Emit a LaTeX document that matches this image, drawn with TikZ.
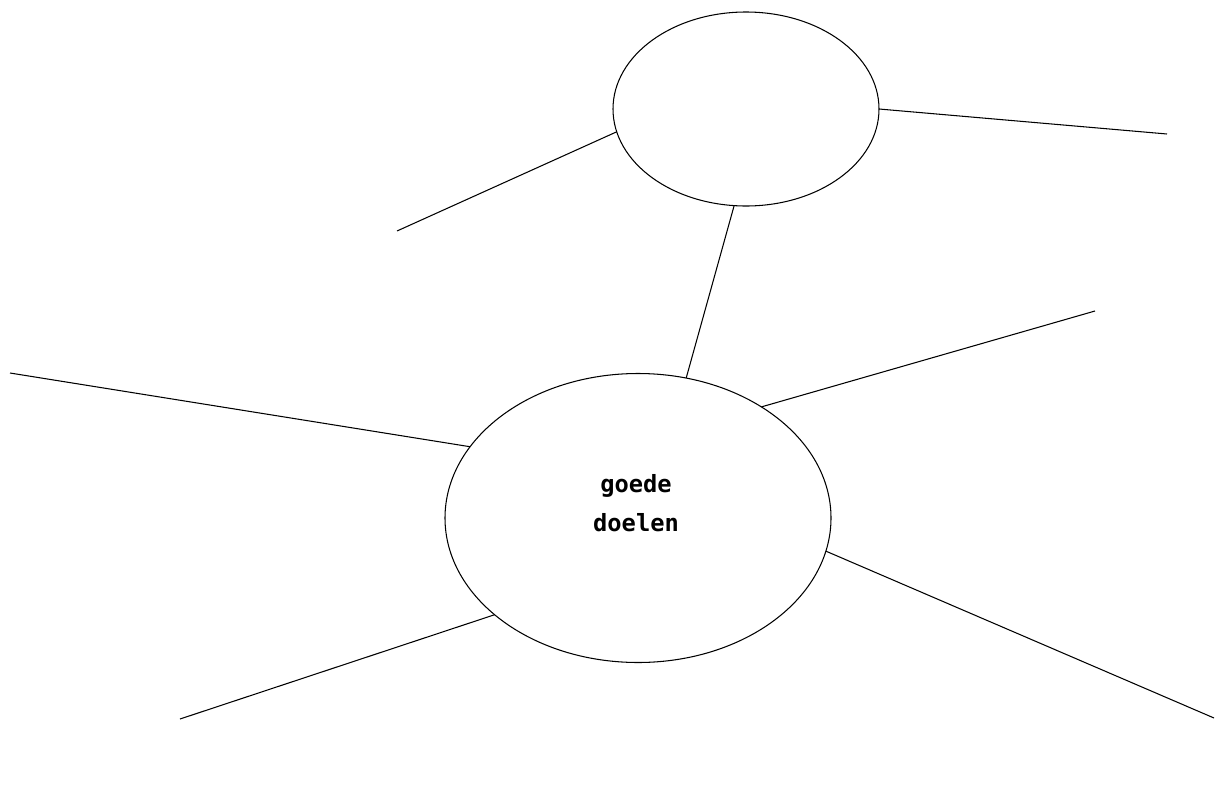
\documentclass[tikz,border=0pt]{standalone}
\usepackage{fontspec}
\newfontfamily\labelfont{DejaVu Sans Mono}
\usetikzlibrary{positioning, shapes.geometric}

\tikzset{
    bubble/.style={draw, ellipse, line width=0.6pt, inner sep=0pt, outer sep=0pt},
    spoke/.style={line width=0.6pt}
}

\begin{document}
\begin{tikzpicture}
        \useasboundingbox (0,0) rectangle (24.5,-15.7);

        \node[bubble, minimum width=7.72cm, minimum height=5.78cm] (big) at (12.76,-10.36) {};
        \node[bubble, minimum width=5.32cm, minimum height=3.88cm] (top) at (14.92,-2.18) {};

        \node[font=\labelfont\bfseries\fontsize{13.5}{22.5}\selectfont, align=center] (lbl)
            at ([yshift=0.3cm, xshift=-0.04cm]big.center) {goede\\doelen};

        % loose ends
        \coordinate (tl) at (7.94,-4.62);
        \coordinate (tr) at (23.34,-2.68);
        \coordinate (bl) at (0.2,-7.46);
        \coordinate (br) at (21.9,-6.22);
        \coordinate (ll) at (3.6,-14.38);
        \coordinate (lr) at (24.28,-14.36);

        \draw[spoke] (top.190) -- (tl);
        \draw[spoke] (top.0) -- (tr);
        \draw[spoke] (top.263.5) -- (big.71);

        \draw[spoke] (big.157) -- (bl);
        \draw[spoke] (big.42) -- (br);
        \draw[spoke] (big.214) -- (ll);
        \draw[spoke] (big.350) -- (lr);

    \end{tikzpicture}
\end{document}
